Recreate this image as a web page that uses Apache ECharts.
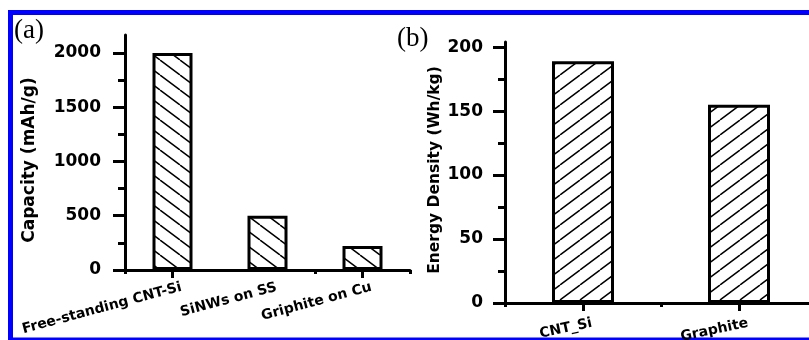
<!DOCTYPE html>
<html>
<head>
<meta charset="utf-8">
<script src="https://cdn.jsdelivr.net/npm/echarts@6/dist/echarts.min.js"></script>
<style>
html,body{margin:0;padding:0;background:#fff;}
#chart{width:809px;height:340px;}
</style>
</head>
<body>
<div id="chart"></div>
<script>
// ---- data ----
var catsA = ['Free-standing CNT-Si', 'SiNWs on SS', 'Griphite on Cu'];
var capacity = [2000, 500, 220];
var catsB = ['CNT_Si', 'Graphite'];
var energy = [189, 155];
var capTicks = [0, 500, 1000, 1500, 2000];
var capMinor = [250, 750, 1250, 1750];
var enTicks = [0, 50, 100, 150, 200];
var enMinor = [25, 75, 125, 175];
var titleA = 'Capacity (mAh/g)';
var titleB = 'Energy Density (Wh/kg)';

function hatch(dir) {
  var w = 20, h = 15;
  var c = document.createElement('canvas');
  c.width = w; c.height = h;
  var g = c.getContext('2d');
  g.fillStyle = '#fff';
  g.fillRect(0, 0, w, h);
  g.strokeStyle = '#000';
  g.lineWidth = 1.5;
  g.beginPath();
  for (var k = -1; k <= 1; k++) {
    if (dir === 'back') {
      g.moveTo(k * w, 0); g.lineTo(k * w + w, h);
    } else {
      g.moveTo(k * w, h); g.lineTo(k * w + w, 0);
    }
  }
  g.stroke();
  return c;
}

var tickFont = { fontFamily: 'DejaVu Sans', fontWeight: 'bold', fontSize: 17, color: '#000' };
var lineStyle = { color: '#000', width: 3 };

function catAxis(grid, cats, mode, rot, fs, margin) {
  if (mode === 'boundary') {
    return {
      type: 'category', gridIndex: grid, data: cats, position: 'bottom',
      axisLine: { show: false },
      axisTick: { show: true, length: 4, lineStyle: { color: '#000', width: 3 } },
      axisLabel: { show: false }, splitLine: { show: false }
    };
  }
  if (mode === 'labels') {
    return {
      type: 'category', gridIndex: grid, data: cats, position: 'bottom',
      axisLine: { show: false }, axisTick: { show: false },
      axisLabel: {
        interval: 0, rotate: rot, margin: margin, hideOverlap: false,
        fontFamily: 'DejaVu Sans', fontWeight: 'bold', fontSize: fs, color: '#000'
      },
      splitLine: { show: false }
    };
  }
  return {
    type: 'category', gridIndex: grid, data: cats, position: 'bottom',
    axisLine: { show: true, lineStyle: lineStyle },
    axisTick: { show: true, alignWithLabel: true, length: 8, lineStyle: { color: '#000', width: 3 } },
    axisLabel: { show: false },
    splitLine: { show: false }
  };
}

function valAxis(grid, max, ticks, minor, mode, margin) {
  if (mode === 'hidden') {
    return { type: 'value', gridIndex: grid, min: 0, max: max, show: false };
  }
  if (mode === 'minor') {
    return {
      type: 'value', gridIndex: grid, min: 0, max: max, position: 'left',
      axisLine: { show: false },
      axisTick: { show: true, length: 7, customValues: minor, lineStyle: { color: '#000', width: 3 } },
      axisLabel: { show: false }, splitLine: { show: false }
    };
  }
  return {
    type: 'value', gridIndex: grid, min: 0, max: max, position: 'left',
    axisLine: { show: true, lineStyle: lineStyle },
    axisTick: { show: true, length: 12, customValues: ticks, lineStyle: { color: '#000', width: 3 } },
    axisLabel: Object.assign({ customValues: ticks, margin: margin,
      formatter: function (v) { return String(v); } }, tickFont),
    splitLine: { show: false }
  };
}

var gA = { left: 125, top: 35, width: 285, height: 235 };
var gB = { left: 505, top: 42, width: 312, height: 261 };
var dx = 9;
function mkGrid(g, shift) {
  return { left: g.left + shift, top: g.top, width: g.width, height: g.height,
    containLabel: false, outerBoundsMode: 'none' };
}

var chart = echarts.init(document.getElementById('chart'), null, { renderer: 'canvas' });
chart.setOption({
  animation: false,
  backgroundColor: '#fff',
  grid: [mkGrid(gA, 0), mkGrid(gB, 0), mkGrid(gA, dx), mkGrid(gB, dx)],
  xAxis: [
    catAxis(0, catsA, 'main'),
    catAxis(0, catsA, 'boundary'),
    catAxis(1, catsB, 'main'),
    catAxis(1, catsB, 'boundary'),
    catAxis(2, catsA, 'labels', 15, 14, 17),
    catAxis(3, catsB, 'labels', 12, 14, 20)
  ],
  yAxis: [
    valAxis(0, 2165, capTicks, capMinor, 'main', 24),
    valAxis(0, 2165, capTicks, capMinor, 'minor'),
    valAxis(1, 204, enTicks, enMinor, 'main', 22),
    valAxis(1, 204, enTicks, enMinor, 'minor'),
    valAxis(2, 2165, capTicks, capMinor, 'hidden'),
    valAxis(3, 204, enTicks, enMinor, 'hidden')
  ],
  series: [
    {
      type: 'bar', xAxisIndex: 0, yAxisIndex: 0, data: capacity, barWidth: 40,
      itemStyle: { color: { image: hatch('back'), repeat: 'repeat' }, borderColor: '#000', borderWidth: 3 },
      emphasis: { disabled: true }
    },
    {
      type: 'bar', xAxisIndex: 2, yAxisIndex: 2, data: energy, barWidth: 62,
      itemStyle: { color: { image: hatch('fwd'), repeat: 'repeat' }, borderColor: '#000', borderWidth: 3 },
      emphasis: { disabled: true }
    }
  ],
  graphic: [
    { type: 'rect', silent: true, shape: { x: 10.5, y: 12.5, width: 830, height: 327.5 },
      style: { fill: null, stroke: '#0000ff', lineWidth: 5 } },
    { type: 'text', x: 29.5, y: 160, rotation: Math.PI / 2,
      style: { text: titleA, align: 'center', verticalAlign: 'middle',
        font: 'bold 17px "DejaVu Sans"', fill: '#000' } },
    { type: 'text', x: 434.5, y: 170, rotation: Math.PI / 2,
      style: { text: titleB, align: 'center', verticalAlign: 'middle',
        font: 'bold 15.5px "DejaVu Sans"', fill: '#000' } },
    { type: 'text', x: 14, y: 31, style: { text: '(a)', align: 'left', verticalAlign: 'middle',
        font: '27px "Liberation Serif"', fill: '#000' } },
    { type: 'text', x: 397, y: 39, style: { text: '(b)', align: 'left', verticalAlign: 'middle',
        font: '27px "Liberation Serif"', fill: '#000' } }
  ]
});
</script>
</body>
</html>
